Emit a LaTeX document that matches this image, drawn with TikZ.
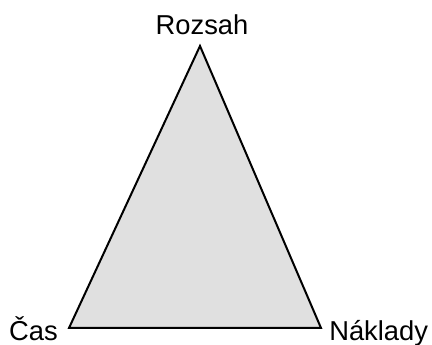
\documentclass[tikz,border=0pt]{standalone}
\usepackage{fontspec}
\setmainfont{Liberation Sans}
\begin{document}
\begin{tikzpicture}[x=0.75pt,y=-0.75pt,
  lbl/.style={font=\fontsize{20.5}{24}\selectfont, inner sep=0pt},
  tri/.style={draw=black, fill=black!12, line width=1.5pt, line join=miter}]
\useasboundingbox (0,0) rectangle (432,345);
\coordinate (top) at (200,46);
\coordinate (bl) at (69,328);
\coordinate (br) at (321,328);
\filldraw[tri] (top) -- (bl) -- (br) -- cycle;
\node[lbl, anchor=base] (r) at (202,35) {Rozsah};
\node[lbl, anchor=base east] (c) at (58,340) {Čas};
\node[lbl, anchor=base west] (n) at (329,340) {Náklady};
\end{tikzpicture}
\end{document}
